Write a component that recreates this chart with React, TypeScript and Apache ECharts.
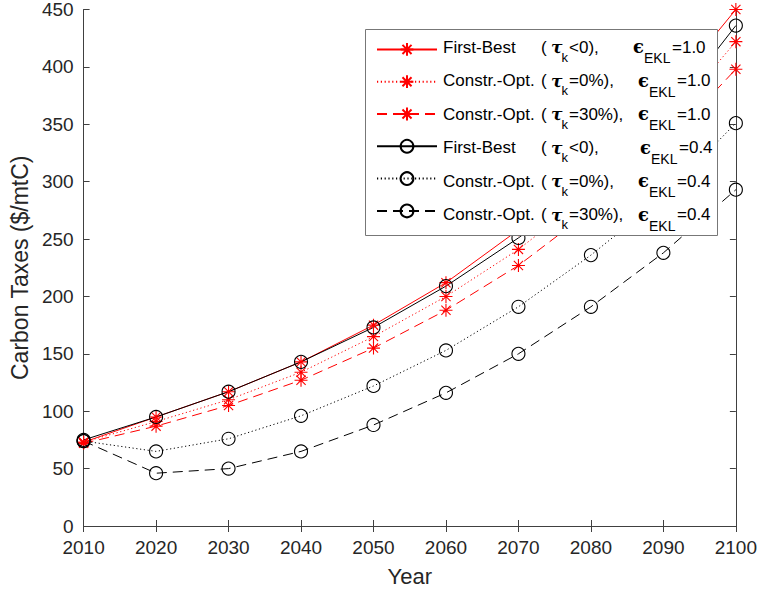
import React, { useEffect, useRef } from 'react';
import * as echarts from 'echarts';

const years = [2010, 2020, 2030, 2040, 2050, 2060, 2070, 2080, 2090, 2100];
const firstBestE10 = [73, 95, 117, 143, 175, 212, 258, 310, 373, 450];
const constrTau0E10 = [73, 91, 110, 134, 165, 200, 241, 290, 348, 422];
const constrTau30E10 = [72, 87, 105, 127, 155, 188, 227, 275, 331, 398];
const firstBestE04 = [75, 95, 117, 143, 173, 209, 251, 298, 355, 436];
const constrTau0E04 = [74, 65, 76, 96, 122, 153, 191, 236, 287, 351];
const constrTau30E04 = [74, 46, 50, 65, 88, 116, 150, 191, 238, 293];

const seriesNames = [
  'First-Best (τk<0), ϵEKL=1.0',
  'Constr.-Opt. (τk=0%), ϵEKL=1.0',
  'Constr.-Opt. (τk=30%), ϵEKL=1.0',
  'First-Best (τk<0), ϵEKL=0.4',
  'Constr.-Opt. (τk=0%), ϵEKL=0.4',
  'Constr.-Opt. (τk=30%), ϵEKL=0.4',
];
const legendLabels = ['First-Best', 'Constr.-Opt.', 'Constr.-Opt.', 'First-Best', 'Constr.-Opt.', 'Constr.-Opt.'];
const legendTau = ['<0),', '=0%),', '=30%),', '<0),', '=0%),', '=30%),'];
const legendEps = ['=1.0', '=1.0', '=1.0', '=0.4', '=0.4', '=0.4'];

const xMin = 2010;
const xMax = 2100;
const xStep = 10;
const yMin = 0;
const yMax = 450;
const yStep = 50;

const FONT = '"Liberation Sans", Arial, sans-serif';
const SERIF = '"DejaVu Serif", "Liberation Serif", serif';
const STAR = 'path://M5,0L5,10M0,5L10,5M1.46,1.46L8.54,8.54M1.46,8.54L8.54,1.46';

export default function App() {
  const ref = useRef<HTMLDivElement>(null);
  useEffect(() => {
    if (!ref.current) return;
    const chart = echarts.init(ref.current, undefined, { renderer: 'svg' });
    const allData = [firstBestE10, constrTau0E10, constrTau30E10, firstBestE04, constrTau0E04, constrTau30E04];
    const colors = ['#ff0000', '#ff0000', '#ff0000', '#000000', '#000000', '#000000'];
    const dashes: any[] = ['solid', [1.2, 2.6], [10, 6], 'solid', [1.2, 2.6], [10, 6]];
    const series = allData.map((vals, i) => {
      const isStar = i < 3;
      return {
        type: 'line',
        name: seriesNames[i],
        data: years.map((y, j) => [y, vals[j]]),
        symbol: isStar ? STAR : 'circle',
        symbolSize: 13,
        showSymbol: true,
        showAllSymbol: true,
        clip: false,
        lineStyle: { color: colors[i], width: 1, type: dashes[i] },
        itemStyle: isStar
          ? { color: colors[i], borderColor: colors[i], borderWidth: 1.1 }
          : { color: 'rgba(0,0,0,0)', borderColor: colors[i], borderWidth: 1.1 },
        emphasis: { disabled: true },
        z: 2,
      };
    });

    // legend box and texts
    const rowStep = 33.5;
    const baseline0 = 53;
    const epsXs = [633, 638, 638, 640, 638, 638];
    const graphics: any[] = [
      {
        type: 'rect', z: 3, silent: true,
        shape: { x: 365.5, y: 29.5, width: 352, height: 206 },
        style: { fill: '#ffffff', stroke: '#777777', lineWidth: 1 },
      },
    ];
    const txt = (text: string, x: number, baseline: number, fs: number, extra: any = {}) => ({
      type: 'text', z: 6, silent: true, x, y: baseline - 0.3465 * fs,
      style: { text, fontFamily: FONT, fontSize: fs, fill: '#000', align: 'left', verticalAlign: 'middle', ...extra },
    });
    for (let i = 0; i < 6; i++) {
      const b = baseline0 + rowStep * i;
      const ex = epsXs[i];
      graphics.push(txt(legendLabels[i], 443, b, 17));
      graphics.push(txt('(', 541, b, 17));
      graphics.push(txt('τ', 551, b, 17, { fontFamily: SERIF, fontWeight: 'bold', fontStyle: 'italic' }));
      graphics.push(txt('k', 561.5, b + 9, 13));
      graphics.push(txt(legendTau[i], 569, b, 17));
      graphics.push(txt('ϵ', ex, b, 18, { fontFamily: SERIF, fontWeight: 'bold' }));
      graphics.push(txt('EKL', ex + 11, b + 10, 14));
      graphics.push(txt(legendEps[i], ex + 39, b, 17));
    }

    const axisLineStyle = { color: '#404040', width: 1 };
    const tick = { show: true, inside: true, length: 6, lineStyle: { color: '#404040', width: 1 } };
    const option: any = {
      animation: false,
      grid: { left: 83, right: 21, top: 9, bottom: 68, containLabel: false },
      xAxis: [
        {
          type: 'value', min: xMin, max: xMax, interval: xStep, position: 'bottom',
          name: 'Year', nameLocation: 'middle', nameGap: 39,
          nameTextStyle: { fontFamily: FONT, fontSize: 22, color: '#262626' },
          axisLine: { show: true, lineStyle: axisLineStyle },
          axisTick: tick,
          axisLabel: { formatter: (v: number) => String(v), fontFamily: FONT, fontSize: 19, color: '#262626', margin: 12 },
          splitLine: { show: false },
        },
        {
          type: 'value', min: xMin, max: xMax, interval: xStep, position: 'top',
          axisLine: { show: true, lineStyle: axisLineStyle },
          axisTick: tick,
          axisLabel: { show: false },
          splitLine: { show: false },
        },
      ],
      yAxis: [
        {
          type: 'value', min: yMin, max: yMax, interval: yStep, position: 'left',
          name: 'Carbon Taxes ($/mtC)', nameLocation: 'middle', nameGap: 50,
          nameTextStyle: { fontFamily: FONT, fontSize: 23, color: '#262626' },
          axisLine: { show: true, lineStyle: axisLineStyle },
          axisTick: tick,
          axisLabel: { fontFamily: FONT, fontSize: 19, color: '#262626', margin: 10 },
          splitLine: { show: false },
        },
        {
          type: 'value', min: yMin, max: yMax, interval: yStep, position: 'right',
          axisLine: { show: true, lineStyle: axisLineStyle },
          axisTick: tick,
          axisLabel: { show: false },
          splitLine: { show: false },
        },
      ],
      legend: {
        show: true,
        orient: 'vertical',
        left: 376,
        top: 42,
        itemWidth: 60,
        itemHeight: 16,
        itemGap: 17.5,
        padding: 0,
        z: 5,
        selectedMode: false,
        data: seriesNames,
        textStyle: { fontFamily: FONT, fontSize: 12, color: 'rgba(0,0,0,0)' },
        formatter: () => ' ',
      },
      graphic: graphics,
      series,
    };
    chart.setOption(option);
    return () => chart.dispose();
  }, []);
  return <div ref={ref} style={{ position: 'fixed', left: 0, top: 0, width: 760, height: 594, background: '#fff' }} />;
}
